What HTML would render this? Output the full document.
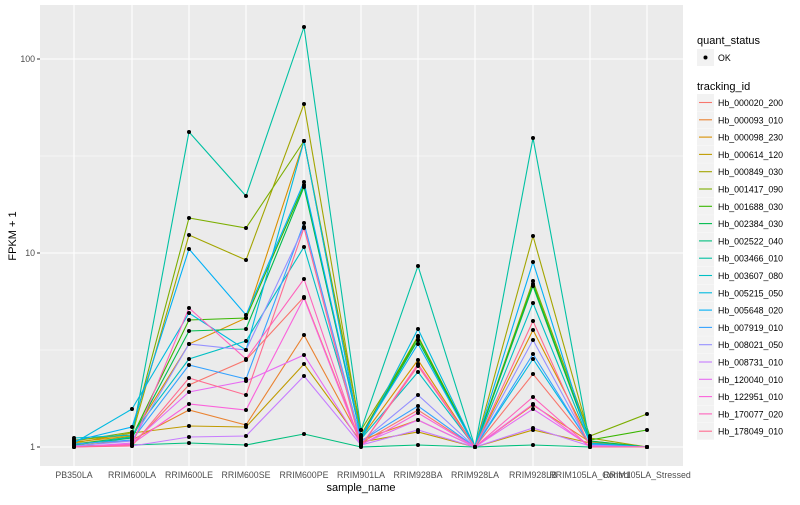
<!DOCTYPE html>
<html><head><meta charset="utf-8"><style>
body{margin:0;background:#fff;}
svg{font-family:"Liberation Sans",sans-serif;}
</style></head><body>
<svg id="s" width="800" height="500" xmlns="http://www.w3.org/2000/svg">
<rect width="800" height="500" fill="#fff"/>
<rect x="40" y="5" width="643" height="461" fill="#EBEBEB"/>
<g stroke="#fff">
<line x1="40" x2="683" y1="350" y2="350" stroke-width="0.5"/>
<line x1="40" x2="683" y1="156" y2="156" stroke-width="0.5"/>
<line x1="40" x2="683" y1="447" y2="447" stroke-width="1.1"/>
<line x1="40" x2="683" y1="253" y2="253" stroke-width="1.1"/>
<line x1="40" x2="683" y1="59" y2="59" stroke-width="1.1"/>
</g>
<g id="vg" stroke="#fff" stroke-width="1.1"></g>
<g id="lines" fill="none" stroke-width="1.1"></g>
<g id="pts" fill="#000"></g>
<g font-size="8.8" fill="#4D4D4D" text-anchor="end">
<text x="35" y="450">1</text><text x="35" y="256">10</text><text x="35" y="62">100</text>
</g>
<g stroke="#333" stroke-width="1"><line x1="37" x2="40" y1="447" y2="447"/><line x1="37" x2="40" y1="253" y2="253"/><line x1="37" x2="40" y1="59" y2="59"/></g>
<g id="xl" font-size="8.8" fill="#4D4D4D" text-anchor="middle"></g>
<text x="361" y="491" font-size="11" text-anchor="middle" fill="#000">sample_name</text>
<text transform="translate(16,236) rotate(-90)" font-size="11" text-anchor="middle" fill="#000">FPKM + 1</text>
<text x="697" y="44" font-size="11" fill="#000">quant_status</text>
<rect x="697" y="49" width="17" height="17" fill="#F2F2F2"/>
<circle cx="705.5" cy="57.5" r="2" fill="#000"/>
<text x="718" y="61" font-size="8.8" fill="#000">OK</text>
<text x="697" y="90" font-size="11" fill="#000">tracking_id</text>
<g id="leg"></g>
</svg>
<script>
var cols=["#F8766D","#EA8331","#D89000","#C09B00","#A3A500","#7CAE00","#39B600","#00BB4E","#00BF7D","#00C1A3","#00BFC4","#00BAE0","#00B0F6","#35A2FF","#9590FF","#C77CFF","#E76BF3","#FA62DB","#FF62BC","#FF6C91"];
var ids=["Hb_000020_200","Hb_000093_010","Hb_000098_230","Hb_000614_120","Hb_000849_030","Hb_001417_090","Hb_001688_030","Hb_002384_030","Hb_002522_040","Hb_003466_010","Hb_003607_080","Hb_005215_050","Hb_005648_020","Hb_007919_010","Hb_008021_050","Hb_008731_010","Hb_120040_010","Hb_122951_010","Hb_170077_020","Hb_178049_010"];
var xs=[74,132,189,246,304,361,418,475,533,590,647];
var xn=["PB350LA","RRIM600LA","RRIM600LE","RRIM600SE","RRIM600PE","RRIM901LA","RRIM928BA","RRIM928LA","RRIM928LB","RRIM105LA_Control","RRIM105LA_Stressed"];
var d=[
[446,445,385,360,297,443,410,447,374,444,447],
[446,440,410,425,335,440,420,447,405,442,447],
[442,436,344,318,141,438,360,447,330,441,447],
[443,433,426,427,364,442,432,447,430,443,447],
[440,435,235,260,104,435,336,447,236,438,447],
[441,432,218,228,141,430,340,447,281,436,414],
[444,437,320,318,185,436,337,447,284,440,430],
[445,438,331,329,187,437,340,447,286,441,447],
[446,445,443,445,434,447,445,447,445,447,447],
[445,437,132,196,27,430,266,447,138,444,447],
[438,435,359,341,247,439,372,447,303,443,447],
[443,409,313,350,141,440,329,447,359,444,447],
[441,427,249,315,182,436,344,447,262,444,447],
[444,440,365,379,223,441,406,447,354,445,447],
[446,441,344,350,227,442,395,447,340,445,447],
[446,446,437,436,376,445,430,447,428,446,447],
[447,443,392,381,355,444,420,447,409,446,447],
[447,444,404,410,298,445,413,447,404,447,447],
[447,445,308,359,279,446,364,447,397,447,447],
[447,446,378,395,228,446,366,447,321,447,447]];
var NS="http://www.w3.org/2000/svg";
function el(p,t,a,txt){var e=document.createElementNS(NS,t);for(var k in a)e.setAttribute(k,a[k]);if(txt)e.textContent=txt;document.getElementById(p).appendChild(e);}
xs.forEach(function(x,i){el("vg","line",{x1:x,x2:x,y1:5,y2:466});el("xl","text",{x:x,y:478},xn[i]);});
d.forEach(function(r,i){var pts=r.map(function(y,j){return xs[j]+","+y;}).join(" ");el("lines","polyline",{points:pts,stroke:cols[i]});r.forEach(function(y,j){el("pts","circle",{cx:xs[j],cy:y,r:2});});
var ky=94+i*17.3;el("leg","rect",{x:697,y:ky,width:17,height:17,fill:"#F2F2F2"});el("leg","line",{x1:699,x2:712,y1:ky+8.5,y2:ky+8.5,stroke:cols[i],"stroke-width":1.1});el("leg","text",{x:718,y:ky+12,"font-size":8.8,fill:"#000"},ids[i]);});
</script>
</body></html>
